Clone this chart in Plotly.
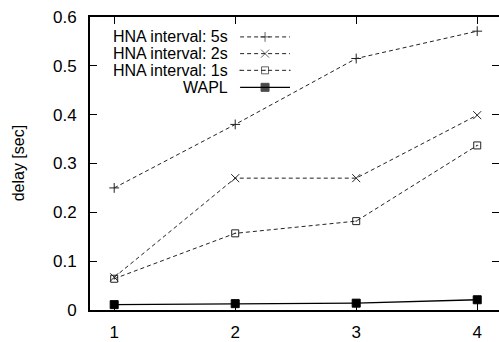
import plotly.graph_objects as go

x_vals = [1, 2, 3, 4]
hna_5s = [0.25, 0.38, 0.515, 0.571]
hna_2s = [0.067, 0.27, 0.27, 0.399]
hna_1s = [0.064, 0.157, 0.182, 0.337]
wapl = [0.011, 0.013, 0.014, 0.021]
y_ticks = [0, 0.1, 0.2, 0.3, 0.4, 0.5, 0.6]
y_tick_labels = ["0", "0.1", "0.2", "0.3", "0.4", "0.5", "0.6"]
series_names = ["HNA interval: 5s", "HNA interval: 2s", "HNA interval: 1s", "WAPL"]

FONT = "Liberation Sans, Arial, sans-serif"
FS = 17
DASH = "4px,3px"
styles = [
    dict(symbol="cross-thin", size=7, dash=DASH, lw=1, color="#222"),
    dict(symbol="x-thin", size=8, dash=DASH, lw=1, color="#222"),
    dict(symbol="square-open-dot", size=7, dash=DASH, lw=1, color="#222"),
    dict(symbol="square", size=8, dash="solid", lw=1.3, color="#000"),
]
series = [hna_5s, hna_2s, hna_1s, wapl]

fig = go.Figure()
for name, vals, st in zip(series_names, series, styles):
    fig.add_trace(go.Scatter(
        x=x_vals, y=vals, name=name, mode="lines+markers", showlegend=False,
        line=dict(color=st["color"], width=st["lw"], dash=st["dash"]),
        marker=dict(symbol=st["symbol"], size=st["size"], color=st["color"],
                    line=dict(color=st["color"], width=1)),
    ))

# invisible trace to activate the mirrored right tick axis
fig.add_trace(go.Scatter(x=x_vals, y=wapl, yaxis="y2", mode="markers",
                         marker=dict(opacity=0), showlegend=False, hoverinfo="skip"))

# gnuplot-style key: text right-aligned, sample to the right (overlay axes in 0..1 units)
key_rows = [0.932, 0.875, 0.818, 0.760]
key_text_x = 0.342
key_line = [0.367, 0.428, 0.489]
for name, st, ky in zip(series_names, styles, key_rows):
    fig.add_trace(go.Scatter(
        x=key_line, y=[ky, ky, ky], xaxis="x2", yaxis="y3", mode="lines+markers",
        showlegend=False, hoverinfo="skip",
        line=dict(color=st["color"], width=st["lw"], dash=st["dash"]),
        marker=dict(symbol=st["symbol"], size=[0, st["size"], 0], color=st["color"],
                    line=dict(color=st["color"], width=1)),
    ))
    fig.add_annotation(x=key_text_x, y=ky, xref="paper", yref="paper", text=name,
                       showarrow=False, xanchor="right", yanchor="middle",
                       font=dict(family=FONT, size=16, color="#000"))

fig.add_annotation(x=-0.174, y=0.5, xref="paper", yref="paper", text="delay [sec]",
                   textangle=-90, showarrow=False, xanchor="center", yanchor="middle",
                   font=dict(family=FONT, size=16, color="#000"))

axis_common = dict(showgrid=False, zeroline=False, ticks="inside", ticklen=7,
                   tickwidth=1.3, tickcolor="#000", linecolor="#000", linewidth=2,
                   tickfont=dict(family=FONT, size=FS, color="#000"))

fig.update_layout(
    width=499, height=342,
    margin=dict(l=90, r=0, t=17, b=29),
    plot_bgcolor="white", paper_bgcolor="white",
    xaxis=dict(range=[0.8, 4.18], tickvals=x_vals, ticktext=[str(v) for v in x_vals],
               showline=True, mirror="ticks", ticklabelstandoff=6, **axis_common),
    yaxis=dict(range=[0, 0.6], tickvals=y_ticks, ticktext=y_tick_labels,
               showline=True, mirror=False, ticklabelstandoff=8, **axis_common),
    yaxis2=dict(overlaying="y", matches="y", side="right", showline=False,
                showticklabels=False, tickvals=y_ticks, showgrid=False, zeroline=False,
                ticks="inside", ticklen=7, tickwidth=1.3, tickcolor="#000"),
    xaxis2=dict(overlaying="x", range=[0, 1], visible=False),
    yaxis3=dict(overlaying="y", range=[0, 1], visible=False),
)

fig.write_html("out.html", config={"displayModeBar": False},
               post_script="document.body.style.margin='0px';document.body.style.overflow='hidden';")
